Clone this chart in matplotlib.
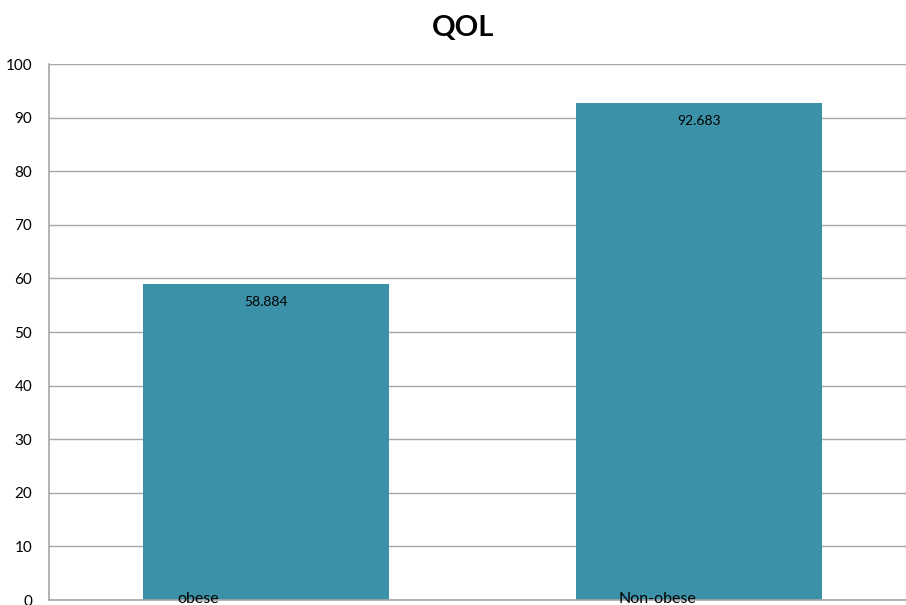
import matplotlib
matplotlib.use("Agg")
import matplotlib.pyplot as plt

categories = ["obese", "Non-obese"]
values = [58.884, 92.683]
value_labels = ["58.884", "92.683"]
yticks = [0, 10, 20, 30, 40, 50, 60, 70, 80, 90, 100]

W, H = 906, 605
fig = plt.figure(figsize=(W / 100, H / 100), dpi=100)
ax = fig.add_axes([49 / W, 5 / H, (916 - 49) / W, 536 / H])

bar_color = "#3A91A8"
grid_color = "#A6A6A6"
x = list(range(len(categories)))
ax.bar(x, values, width=0.567, color=bar_color, zorder=3)

ax.set_xlim(-0.5, 1.5)
ax.set_ylim(0, 100)
ax.set_yticks(yticks)
ax.set_yticklabels([str(t) for t in yticks], fontsize=11, family="Lato")
ax.tick_params(axis="y", length=0, pad=12)
ax.set_xticks([])
ax.yaxis.grid(True, color=grid_color, linewidth=1, zorder=0)
for s in ["top", "right"]:
    ax.spines[s].set_visible(False)
for s in ["left", "bottom"]:
    ax.spines[s].set_color(grid_color)
    ax.spines[s].set_linewidth(1.2)
    ax.spines[s].set_zorder(4)

for xi, v, lab in zip(x, values, value_labels):
    ax.annotate(lab, (xi, v), xytext=(0, -13), textcoords="offset points",
                ha="center", va="center", fontsize=10, family="Lato", zorder=5)

label_offsets = [-0.157, -0.096]
for xi, cat, off in zip(x, categories, label_offsets):
    ax.annotate(cat, (xi + off, 0), xytext=(0, -2), textcoords="offset points",
                ha="center", va="baseline", fontsize=11.5,
                family="Lato", zorder=5, annotation_clip=False)

fig.text(463 / W, 1 - 28 / H, "QOL", ha="center", va="center",
         fontsize=21, fontweight="bold", family="Lato")

fig.savefig("out.png", dpi=100)
